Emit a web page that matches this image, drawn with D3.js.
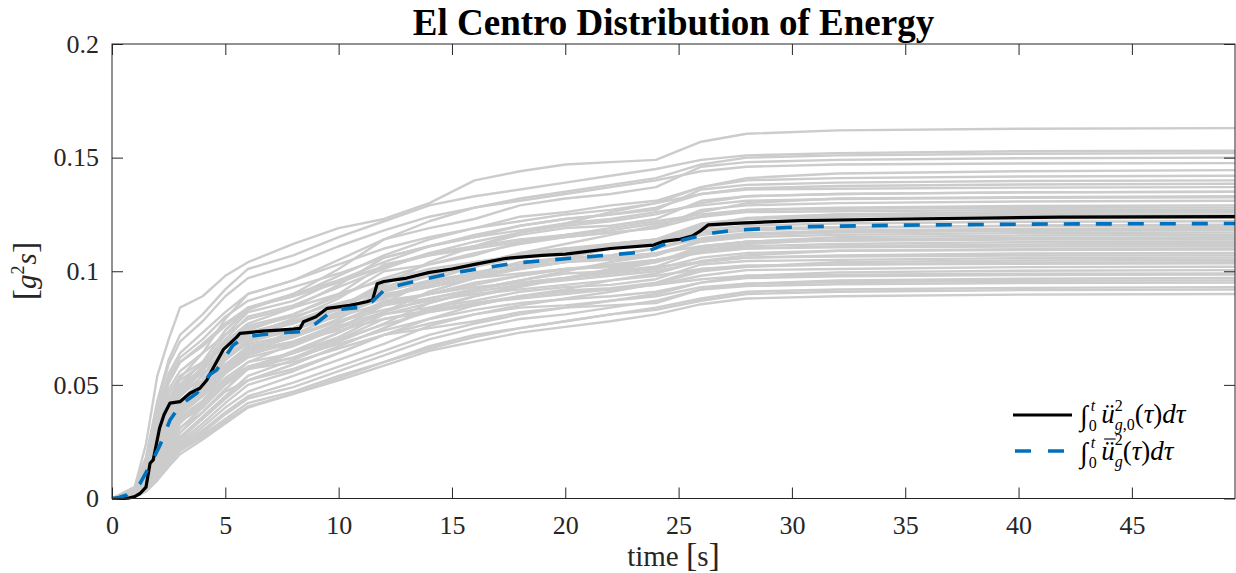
<!DOCTYPE html>
<html><head><meta charset="utf-8">
<script src="https://cdn.jsdelivr.net/npm/d3@7"></script>
<style>html,body{margin:0;padding:0;background:#fff;} svg{display:block;} .ax text{font-family:'Liberation Serif','Times New Roman',Times,serif !important;font-size:26px !important;}</style>
</head><body>
<svg id="chart" width="1236" height="573"></svg>
<script>
// ---------------- DATA ----------------
const timeGrid = [0,1,1.5,2,2.5,3,4,5,6,8,10,12,14,16,18,20,22,24,26,28,32,40,49.55];

const simulations = [
 [0,.005,.024,.054,.070,.084,.089,.098,.104,.112,.119,.123,.130,.140,.144,.147,.148,.149,.157,.1605,.162,.1627,.163],
 [0,.005,.018,.043,.061,.072,.081,.092,.101,.107,.115,.122,.129,.133,.136,.139,.142,.145,.149,.151,.152,.1528,.153],
 [0,.003,.011,.026,.043,.053,.064,.079,.090,.096,.105,.114,.122,.128,.132,.135,.138,.141,.147,.150,.151,.1517,.152],
 [0,.003,.009,.023,.039,.050,.060,.074,.083,.090,.101,.114,.119,.123,.129,.132,.134,.137,.146,.148,.149,.1497,.150],
 [0,.004,.018,.041,.059,.069,.078,.089,.097,.103,.111,.118,.124,.128,.131,.134,.137,.140,.144,.146,.147,.1474,.1476],
 [0,.0015,.006,.014,.025,.033,.043,.055,.065,.074,.084,.094,.104,.111,.117,.121,.126,.130,.137,.141,.143,.144,.1445],
 [0,.003,.010,.024,.040,.050,.060,.074,.084,.089,.098,.107,.114,.119,.124,.126,.129,.131,.137,.140,.141,.1417,.142],
 [0,.003,.008,.021,.036,.046,.056,.069,.077,.084,.094,.106,.111,.115,.120,.123,.125,.127,.136,.138,.139,.1397,.140],
 [0,.004,.016,.038,.055,.064,.073,.082,.090,.096,.103,.110,.115,.119,.122,.125,.127,.130,.134,.136,.1363,.1368,.137],
 [0,.003,.009,.023,.038,.047,.057,.070,.080,.085,.093,.101,.108,.113,.117,.120,.122,.125,.130,.133,.134,.1347,.135],
 [0,.001,.005,.013,.023,.031,.040,.051,.060,.068,.077,.086,.096,.102,.108,.112,.116,.120,.126,.130,.132,.1326,.133],
 [0,.003,.008,.020,.034,.043,.052,.064,.072,.079,.088,.100,.103,.107,.113,.115,.117,.119,.127,.129,.130,.1307,.131],
 [0,.0026,.009,.022,.036,.045,.054,.067,.076,.081,.089,.097,.103,.108,.112,.115,.117,.119,.124,.127,.128,.1287,.129],
 [0,.004,.015,.036,.051,.060,.067,.076,.084,.089,.095,.102,.107,.110,.113,.116,.118,.121,.124,.126,.1264,.1269,.127],
 [0,.0013,.005,.013,.021,.029,.038,.048,.057,.064,.073,.082,.091,.097,.102,.106,.110,.113,.120,.123,.125,.1256,.126],
 [0,.0025,.0075,.019,.033,.041,.050,.061,.069,.075,.084,.095,.099,.103,.108,.110,.111,.114,.121,.123,.124,.1248,.125],
 [0,.0024,.0085,.021,.034,.043,.051,.063,.072,.077,.084,.092,.098,.102,.106,.109,.110,.113,.118,.120,.121,.1218,.122],
 [0,.0036,.014,.034,.048,.056,.064,.072,.079,.084,.090,.096,.101,.104,.107,.109,.112,.114,.117,.119,.1194,.1199,.120],
 [0,.0012,.0048,.012,.020,.027,.036,.045,.054,.061,.069,.077,.086,.092,.096,.100,.104,.107,.113,.116,.118,.1186,.119],
 [0,.0024,.007,.018,.031,.039,.047,.058,.065,.071,.079,.090,.093,.097,.101,.104,.105,.107,.114,.116,.117,.1178,.118],
 [0,.0023,.008,.020,.033,.041,.049,.061,.069,.074,.081,.088,.094,.098,.102,.104,.106,.108,.113,.115,.116,.1168,.117],
 [0,.0012,.0046,.0115,.020,.026,.035,.044,.052,.059,.067,.075,.083,.089,.093,.097,.100,.104,.109,.112,.114,.1147,.115],
 [0,.0034,.014,.032,.046,.054,.060,.068,.075,.080,.086,.091,.096,.099,.101,.104,.106,.108,.111,.113,.1134,.1139,.114],
 [0,.0023,.008,.019,.032,.040,.047,.059,.067,.071,.078,.085,.090,.095,.098,.101,.102,.105,.109,.111,.112,.1128,.113],
 [0,.0022,.0067,.017,.029,.037,.045,.055,.062,.067,.075,.085,.088,.092,.096,.099,.100,.102,.109,.110,.111,.1118,.112],
 [0,.0011,.0044,.011,.019,.025,.033,.042,.050,.056,.064,.072,.079,.085,.089,.092,.096,.099,.1045,.107,.109,.1097,.110],
 [0,.0022,.0076,.018,.030,.038,.045,.056,.064,.068,.075,.081,.086,.091,.094,.096,.098,.100,.104,.106,.107,.1078,.108],
 [0,.0032,.013,.030,.043,.050,.057,.064,.071,.075,.080,.086,.090,.093,.095,.097,.0995,.102,.104,.106,.1065,.1069,.107],
 [0,.001,.0042,.0105,.018,.024,.0315,.040,.047,.054,.061,.068,.076,.081,.085,.088,.091,.0945,.100,.102,.104,.1047,.105],
 [0,.0021,.0062,.016,.027,.034,.042,.051,.057,.062,.070,.079,.082,.085,.089,.0915,.0925,.095,.101,.102,.103,.1038,.104],
 [0,.002,.007,.017,.029,.036,.043,.053,.060,.064,.070,.0765,.082,.086,.089,.091,.092,.094,.098,.1005,.101,.1018,.102],
 [0,.001,.004,.010,.017,.023,.030,.038,.045,.051,.058,.065,.072,.077,.081,.084,.087,.090,.095,.098,.0995,.1002,.1005],
 [0,.003,.012,.028,.040,.0465,.052,.059,.065,.069,.074,.079,.083,.086,.088,.090,.092,.094,.0965,.098,.0985,.0989,.099],
 [0,.001,.0039,.0097,.0165,.022,.029,.037,.044,.049,.056,.063,.070,.075,.079,.081,.084,.087,.092,.0945,.096,.0967,.097],
 [0,.0019,.0067,.016,.027,.034,.040,.050,.057,.060,.066,.072,.077,.081,.084,.085,.087,.089,.093,.0945,.0953,.0958,.096],
 [0,.0019,.0057,.014,.025,.031,.038,.047,.052,.057,.064,.072,.075,.078,.082,.084,.085,.086,.092,.0935,.0943,.0948,.095],
 [0,.0009,.0037,.0093,.016,.021,.028,.035,.042,.047,.054,.060,.067,.072,.075,.078,.081,.084,.088,.091,.092,.0927,.093],
 [0,.0008,.003,.008,.014,.0195,.026,.033,.040,.046,.053,.060,.066,.071,.075,.078,.081,.083,.087,.090,.091,.0917,.092],
 [0,.0009,.0036,.009,.015,.021,.027,.034,.0405,.046,.052,.0585,.065,.069,.073,.0755,.078,.081,.0855,.088,.089,.0897,.090],
 [0,.0038,.015,.036,.051,.060,.068,.077,.084,.090,.096,.102,.108,.111,.114,.116,.119,.122,.125,.127,.1275,.1279,.128],
 [0,.0033,.013,.031,.044,.052,.059,.067,.073,.078,.083,.089,.093,.097,.099,.101,.103,.105,.108,.110,.1105,.1109,.111],
 [0,.0021,.0064,.016,.028,.035,.042,.052,.058,.064,.071,.081,.084,.087,.091,.093,.094,.0965,.103,.1045,.105,.1058,.106],
 [0,.0025,.0086,.021,.035,.043,.052,.064,.073,.078,.085,.093,.099,.104,.107,.110,.112,.114,.119,.1217,.1227,.1233,.1235],
 [0,.0012,.0046,.0116,.020,.027,.035,.044,.052,.059,.067,.075,.084,.089,.094,.097,.101,.104,.110,.113,.115,.1157,.116],
 [0,.004,.016,.037,.053,.062,.070,.080,.087,.093,.099,.106,.111,.115,.118,.121,.123,.126,.129,.131,.1318,.1323,.1325],
 [0,.0028,.0097,.024,.039,.048,.058,.072,.082,.087,.096,.104,.111,.116,.120,.123,.125,.128,.134,.1365,.1375,.1382,.1385],
 [0,.0024,.0072,.018,.031,.040,.048,.059,.066,.072,.081,.092,.095,.099,.104,.106,.107,.110,.116,.118,.119,.1201,.1205],
 [0,.0022,.0077,.019,.031,.038,.046,.057,.065,.069,.076,.082,.088,.092,.095,.097,.099,.101,.106,.108,.109,.1093,.1095],
 [0,.0013,.005,.0127,.0215,.029,.038,.048,.057,.065,.073,.082,.091,.097,.102,.106,.110,.114,.120,.1235,.125,.1261,.1265],
 [0,.0031,.0124,.029,.041,.049,.055,.062,.068,.072,.078,.083,.087,.090,.092,.094,.096,.098,.101,.1025,.103,.1033,.1035],
 [0,.0023,.0069,.017,.030,.038,.046,.056,.063,.069,.077,.087,.090,.094,.098,.101,.102,.104,.111,.113,.114,.1143,.1145],
 [0,.0024,.0083,.020,.033,.041,.050,.062,.070,.075,.082,.089,.095,.0995,.103,.105,.107,.110,.1145,.1167,.1177,.1183,.1185],
 [0,.0027,.0081,.020,.035,.045,.054,.066,.074,.081,.090,.103,.107,.111,.116,.119,.120,.123,.131,.133,.134,.1347,.135],
 [0,.002,.0069,.0167,.0276,.0345,.041,.051,.058,.062,.068,.074,.079,.083,.086,.0877,.089,.091,.095,.097,.0978,.0983,.0985]
];

const recordTime   = [0,0.5,0.7,1.0,1.24,1.5,1.68,1.82,2.1,2.3,2.56,3.0,3.44,3.88,4.18,4.47,4.91,5.5,5.65,6.5,8.0,8.3,8.45,9.0,9.5,10.5,11.24,11.5,11.7,12.0,13.0,14.0,15.0,16.0,17.4,19.0,20.0,22.0,23.9,24.3,25.0,25.6,26.0,26.3,27.7,30.4,35,41.8,49.55];
const recordEnergy = [0,0,0.0001,0.0008,0.0022,0.005,0.0155,0.017,0.031,0.037,0.042,0.0426,0.0463,0.0485,0.052,0.0575,0.0655,0.071,0.0727,0.0735,0.0745,0.0749,0.0778,0.080,0.0837,0.085,0.0866,0.0875,0.0945,0.0955,0.097,0.0995,0.101,0.103,0.1057,0.107,0.1075,0.110,0.1115,0.113,0.114,0.1155,0.118,0.1204,0.1212,0.1223,0.123,0.1238,0.124];

const meanTime   = [0,0.3,0.65,1.24,1.7,2.12,2.56,3.0,3.74,4.3,4.62,5.35,5.94,7.0,8.3,9.0,9.77,11.24,12.1,13.3,14.9,17.7,20,23.6,24.3,25.5,26.5,27.4,30.4,35,41.5,49.55];
const meanEnergy = [0,0.0004,0.0015,0.0067,0.015,0.0235,0.0345,0.041,0.0463,0.0544,0.0566,0.0676,0.0712,0.0725,0.0734,0.077,0.083,0.0844,0.0925,0.0954,0.099,0.1035,0.1055,0.1086,0.1116,0.1145,0.1168,0.118,0.1196,0.1203,0.1208,0.121];

const xTickValues = [0,5,10,15,20,25,30,35,40,45];
const xTickLabels = ["0","5","10","15","20","25","30","35","40","45"];
const yTickValues = [0,0.05,0.1,0.15,0.2];
const yTickLabels = ["0","0.05","0.1","0.15","0.2"];
const xDomain = [0, 49.55];
const yDomain = [0, 0.2];
const titleText = "El Centro Distribution of Energy";

// ---------------- DRAW ----------------
const serif = "'Liberation Serif','Times New Roman',Times,serif";
const svg = d3.select("#chart");
const L = 112, T = 44, R = 1235, B = 498.5;
const x = d3.scaleLinear().domain(xDomain).range([L, R]);
const y = d3.scaleLinear().domain(yDomain).range([B, T]);
const axisColor = "#262626";

svg.append("defs").append("clipPath").attr("id","clip")
  .append("rect").attr("x", L).attr("y", T - 2).attr("width", R - L).attr("height", B - T + 4);

const plot = svg.append("g").attr("clip-path","url(#clip)");
const line = d3.line().x(d => x(d[0])).y(d => y(d[1]));

plot.selectAll("path.sim").data(simulations).join("path")
  .attr("class","sim")
  .attr("d", s => line(s.map((v,i) => [timeGrid[i], v])))
  .attr("fill","none").attr("stroke","#cccccc").attr("stroke-width",2.4).attr("stroke-linejoin","round");

plot.append("path")
  .attr("d", line(recordTime.map((t,i) => [t, recordEnergy[i]])))
  .attr("fill","none").attr("stroke","#000").attr("stroke-width",3.2).attr("stroke-linejoin","round");

plot.append("path")
  .attr("d", line(meanTime.map((t,i) => [t, meanEnergy[i]])))
  .attr("fill","none").attr("stroke","#0072BD").attr("stroke-width",3.6).attr("stroke-dasharray","16,16");

// axes
function styleAxis(g){
  g.attr("class","ax").attr("font-family", serif).attr("font-size", 26);
  g.select(".domain").remove();
  g.selectAll(".tick line").attr("stroke", axisColor).attr("stroke-width",1);
  g.selectAll(".tick text").attr("fill", axisColor).style("font-family", serif).style("font-size", "26px");
}
svg.append("g").attr("transform",`translate(0,${B})`)
  .call(d3.axisBottom(x).tickValues(xTickValues).tickFormat((d,i)=>xTickLabels[i]).tickSizeInner(-11).tickSizeOuter(0).tickPadding(17))
  .call(styleAxis);
svg.append("g").attr("transform",`translate(0,${T})`)
  .call(d3.axisTop(x).tickValues(xTickValues).tickFormat("").tickSizeInner(-11).tickSizeOuter(0))
  .call(styleAxis);
svg.append("g").attr("transform",`translate(${L},0)`)
  .call(d3.axisLeft(y).tickValues(yTickValues).tickFormat((d,i)=>yTickLabels[i]).tickSizeInner(-11).tickSizeOuter(0).tickPadding(13))
  .call(styleAxis);
svg.append("g").attr("transform",`translate(${R},0)`)
  .call(d3.axisRight(y).tickValues(yTickValues).tickFormat("").tickSizeInner(-11).tickSizeOuter(0))
  .call(styleAxis);

svg.append("rect").attr("x", L).attr("y", T).attr("width", R - L).attr("height", B - T)
  .attr("fill","none").attr("stroke", axisColor).attr("stroke-width",1);

// title
svg.append("text").attr("x", (L+R)/2).attr("y", 35).attr("text-anchor","middle")
  .attr("font-family", serif).attr("font-weight","bold").attr("font-size",37).attr("fill","#000")
  .text(titleText);

// x label
const xl = svg.append("text").attr("x", (L+R)/2).attr("y", 566).attr("text-anchor","middle")
  .attr("font-family", serif).attr("font-size",29).attr("fill", axisColor);
xl.append("tspan").text("time ");
xl.append("tspan").attr("font-size",34).text("[");
xl.append("tspan").text("s");
xl.append("tspan").attr("font-size",34).text("]");

// y label
const yl = svg.append("text").attr("transform","translate(36,271) rotate(-90)").attr("text-anchor","middle")
  .attr("font-family", serif).attr("font-size",29).attr("fill", axisColor);
yl.append("tspan").attr("font-size",34).text("[");
yl.append("tspan").attr("font-style","italic").text("g");
yl.append("tspan").attr("font-size",18).attr("dy",-12).text("2");
yl.append("tspan").attr("font-style","italic").attr("dy",12).attr("dx",1).text("s");
yl.append("tspan").attr("font-size",34).text("]");

// legend
function mathText(x0, yb, parts){
  const t = svg.append("text").attr("x", x0).attr("y", yb).attr("font-family", serif).attr("fill","#000");
  parts.forEach(p => {
    const s = t.append("tspan").text(p.t).attr("font-size", p.size || 27).attr("y", yb + (p.dy || 0));
    if (p.it) s.attr("font-style","italic");
    if (p.dx) s.attr("dx", p.dx);
  });
  return t;
}
svg.append("line").attr("x1",1013).attr("x2",1072).attr("y1",415).attr("y2",415)
  .attr("stroke","#000").attr("stroke-width",3.2);
svg.append("line").attr("x1",1015).attr("x2",1072).attr("y1",451).attr("y2",451)
  .attr("stroke","#0072BD").attr("stroke-width",3.6).attr("stroke-dasharray","16,17");

const e1 = [
  {t:"\u222B", size:28, dy:2},
  {t:"0", size:16, dy:8, dx:1},
  {t:"t", size:16, dy:-12, dx:-6, it:true},
  {t:"\u00FC", it:true, dx:6},
  {t:"2", size:16, dy:-12},
  {t:"g", size:16, dy:7, dx:-8, it:true},
  {t:",0", size:16, dy:7},
  {t:"("},{t:"\u03C4", it:true},{t:")"},{t:"d", it:true},{t:"\u03C4", it:true}
];
mathText(1080, 423, e1);
const e2 = [
  {t:"\u222B", size:28, dy:2},
  {t:"0", size:16, dy:8, dx:1},
  {t:"t", size:16, dy:-12, dx:-6, it:true},
  {t:"\u00FC", it:true, dx:6},
  {t:"2", size:16, dy:-15},
  {t:"g", size:16, dy:7, dx:-8, it:true},
  {t:"("},{t:"\u03C4", it:true},{t:")"},{t:"d", it:true},{t:"\u03C4", it:true}
];
const t2 = mathText(1080, 460, e2);
try {
  const ext = t2.node().getExtentOfChar(3);
  svg.append("line").attr("x1", ext.x + 3).attr("x2", ext.x + ext.width + 1)
    .attr("y1", 460 - 21).attr("y2", 460 - 21).attr("stroke","#000").attr("stroke-width",1.1);
} catch(e) {}
</script>
</body></html>
